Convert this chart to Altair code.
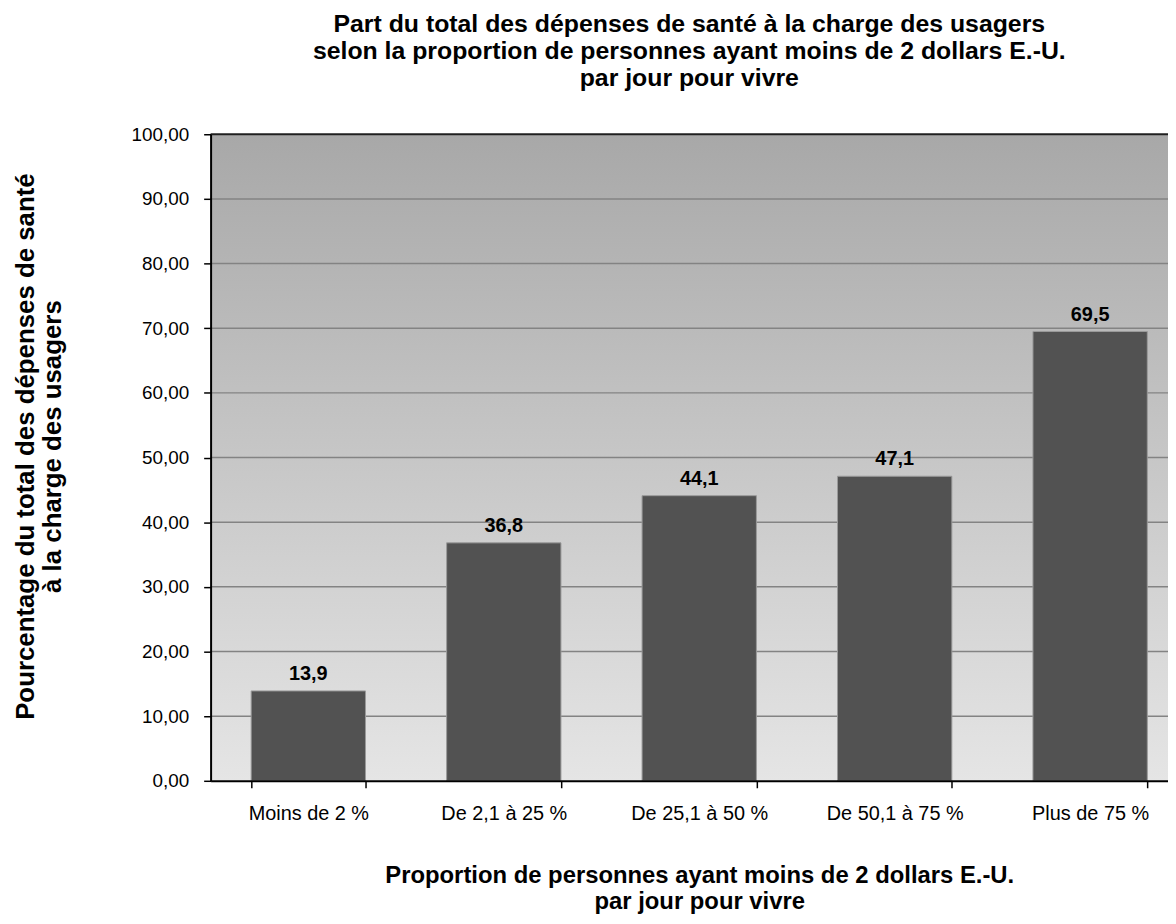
import altair as alt
import pandas as pd

categories = ["Moins de 2 %", "De 2,1 à 25 %", "De 25,1 à 50 %", "De 50,1 à 75 %", "Plus de 75 %"]
values = [13.9, 36.8, 44.1, 47.1, 69.5]
value_labels = ["13,9", "36,8", "44,1", "47,1", "69,5"]
grid_values = [10, 20, 30, 40, 50, 60, 70, 80, 90]
top_value = [100]
y_ticks = [0, 10, 20, 30, 40, 50, 60, 70, 80, 90, 100]

title_lines = [
    "Part du total des dépenses de santé à la charge des usagers",
    "selon la proportion de personnes ayant moins de 2 dollars E.-U.",
    "par jour pour vivre",
]
x_title = ["Proportion de personnes ayant moins de 2 dollars E.-U.", "par jour pour vivre"]
y_title = ["Pourcentage du total des dépenses de santé", "à la charge des usagers"]

W, H = 964, 651
RANGE = 984
FONT = "Liberation Sans"

df = pd.DataFrame({"cat": categories, "val": values, "lab": value_labels})
grid_df = pd.DataFrame({"g": grid_values})
top_df = pd.DataFrame({"g": top_value})
bg_df = pd.DataFrame({"a": [0]})

yscale = alt.Scale(domain=[0, 100], nice=False, zero=True)
xscale = alt.Scale(domain=categories, range=[0, RANGE], paddingInner=0.415, paddingOuter=0.2075)

xaxis = alt.Axis(
    title=x_title, labelAngle=0, labelFontSize=20, labelFont=FONT, labelColor="black",
    labelPadding=16, tickBand="extent", tickSize=7, tickColor="black", tickWidth=1.5,
    domainColor="black", domainWidth=2, titleFontSize=24, titleFont=FONT,
    titleFontWeight="bold", titleColor="black", titlePadding=40, titleLineHeight=27, zindex=1,
)
yaxis = alt.Axis(
    title=y_title, values=y_ticks, labelExpr="replace(format(datum.value, '.2f'), '.', ',')",
    labelFontSize=19, labelFont=FONT, labelColor="black", labelPadding=15,
    tickSize=7, tickColor="black", tickWidth=1.5, domainColor="black", domainWidth=2,
    grid=False, titleFontSize=26, titleFont=FONT, titleFontWeight="bold",
    titleColor="black", titlePadding=66, titleLineHeight=27, titleY=314, zindex=1,
)

bg = alt.Chart(bg_df).mark_rect(
    color=alt.Gradient(
        gradient="linear",
        stops=[alt.GradientStop(color="#a8a8a8", offset=0), alt.GradientStop(color="#e5e5e5", offset=1)],
        x1=0, x2=0, y1=0, y2=1,
    )
).encode(x=alt.value(0), x2=alt.value(RANGE), y=alt.value(0), y2=alt.value(H))

grid = alt.Chart(grid_df).mark_rule(color="#838383", strokeWidth=1.5).encode(
    x=alt.value(0), x2=alt.value(RANGE),
    y=alt.Y("g:Q", scale=yscale, axis=yaxis),
)

top_line = alt.Chart(top_df).mark_rule(color="#202020", strokeWidth=2).encode(
    x=alt.value(0), x2=alt.value(RANGE),
    y=alt.Y("g:Q", scale=yscale, axis=yaxis),
)

bars = alt.Chart(df).mark_bar(color="#525252", stroke="#9a9a9a", strokeWidth=1).encode(
    x=alt.X("cat:N", sort=categories, scale=xscale, axis=xaxis),
    y=alt.Y("val:Q", scale=yscale, axis=yaxis),
)

text = alt.Chart(df).mark_text(
    baseline="alphabetic", dy=-11, fontSize=20, fontWeight="bold", font=FONT, color="black"
).encode(
    x=alt.X("cat:N", sort=categories, scale=xscale, axis=xaxis),
    y=alt.Y("val:Q", scale=yscale, axis=yaxis),
    text="lab:N",
)

chart = alt.layer(bg, grid, top_line, bars, text).properties(
    width=W, height=H,
    title=alt.TitleParams(
        text=title_lines, fontSize=25, font=FONT, fontWeight="bold", color="black",
        anchor="middle", offset=35, lineHeight=27,
    ),
    autosize=alt.AutoSizeParams(type="none"),
    padding={"left": 204, "top": 124, "right": 0, "bottom": 133},
).configure_view(stroke=None).configure(background="white")

chart.save("out.html", embed_options={"renderer": "svg", "actions": False})
